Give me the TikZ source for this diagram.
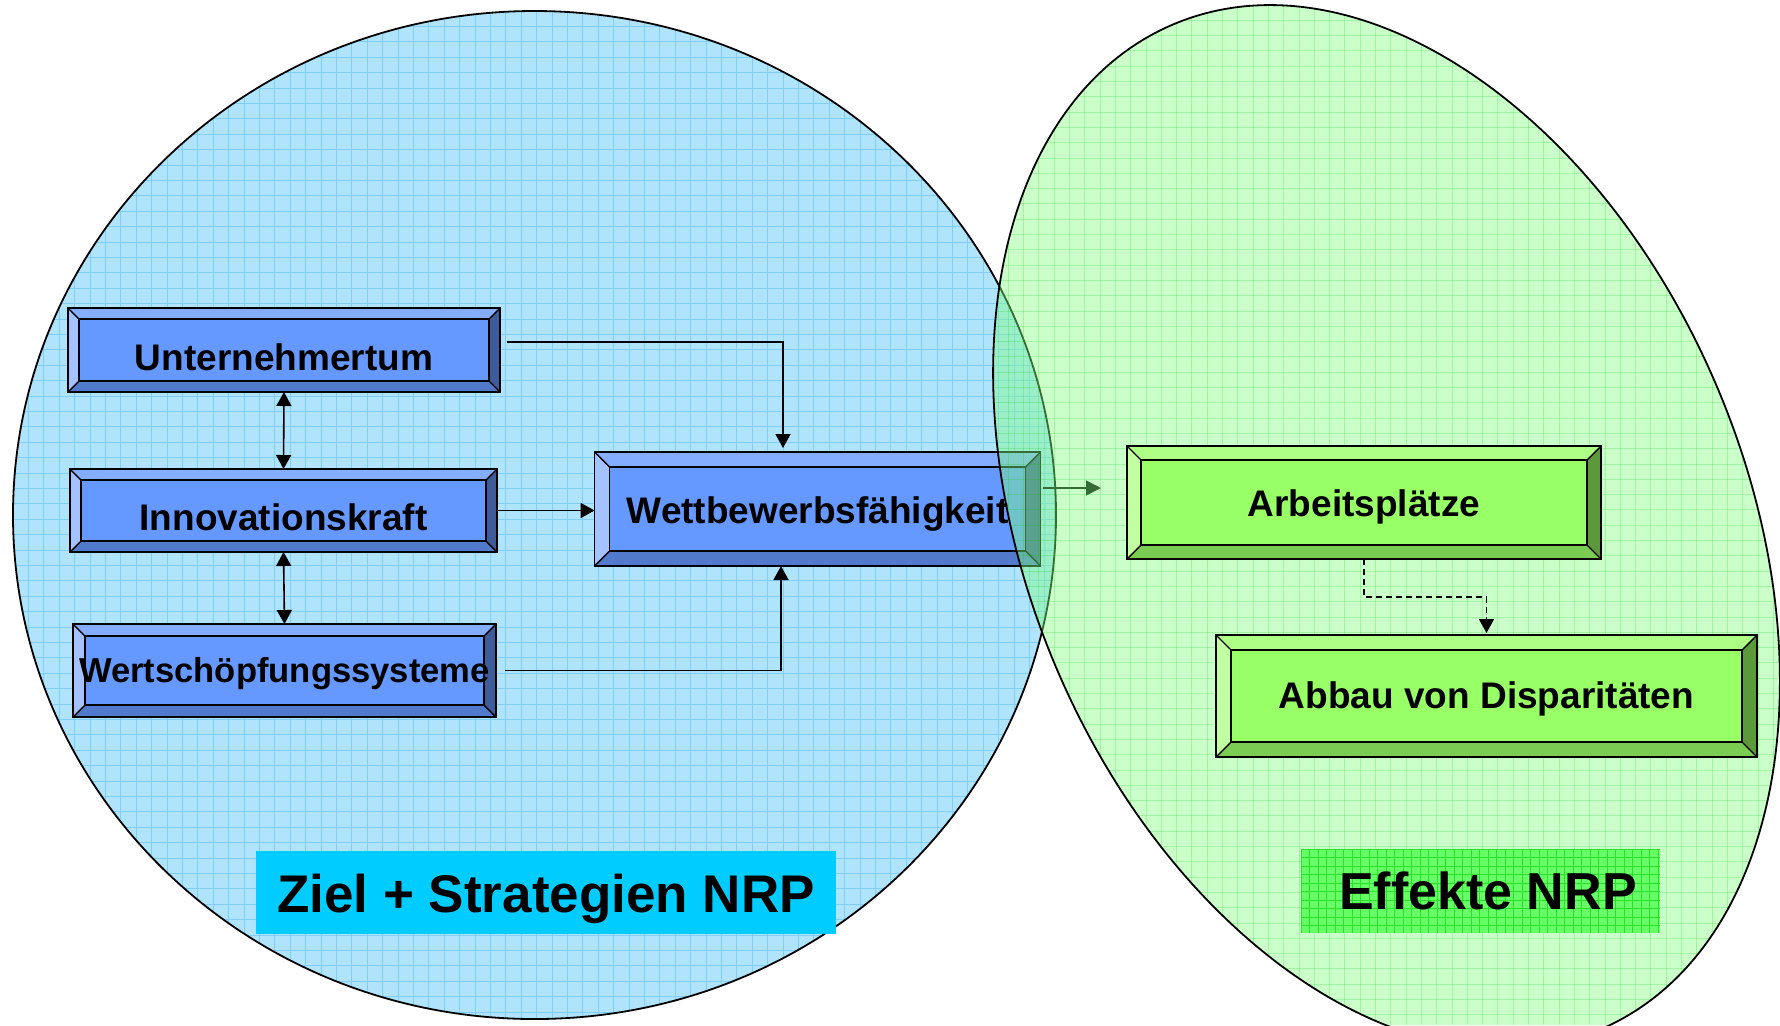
\documentclass[tikz,border=0pt]{standalone}
\usepackage{fontspec}
\setmainfont{Liberation Sans}
\usetikzlibrary{calc,arrows.meta}

\definecolor{Bface}{RGB}{102,153,255}
\definecolor{Btop}{RGB}{133,173,255}
\definecolor{Bleft}{RGB}{163,194,255}
\definecolor{Bbot}{RGB}{82,122,204}
\definecolor{Bright}{RGB}{61,92,153}
\definecolor{Gface}{RGB}{153,255,102}
\definecolor{Gtop}{RGB}{173,255,133}
\definecolor{Gleft}{RGB}{194,255,163}
\definecolor{Gbot}{RGB}{122,204,82}
\definecolor{Gright}{RGB}{92,153,61}
\definecolor{blueBg}{RGB}{176,228,252}
\definecolor{blueGrid}{RGB}{128,206,245}
\definecolor{zielC}{RGB}{0,204,255}
\definecolor{effC}{RGB}{102,255,102}
\definecolor{effGrid}{RGB}{40,225,40}
\definecolor{greenFill}{RGB}{128,255,128}
\definecolor{greenGrid}{RGB}{0,200,0}

\tikzset{
  boxline/.style={draw=black, line width=0.7pt, line join=miter},
  conn/.style={draw=black, line width=0.8pt, -{Triangle[length=7pt,width=7.5pt]}},
  dconn/.style={draw=black, line width=0.8pt, {Triangle[length=7pt,width=7.5pt]}-{Triangle[length=7pt,width=7.5pt]}},
  gconn/.style={draw=black, line width=0.7pt, -{Triangle[length=7.5pt,width=7.5pt]}},
  dashconn/.style={draw=black, line width=0.8pt, dash pattern=on 3pt off 2pt, -{Triangle[length=7pt,width=7.5pt]}},
  boxtext/.style={font=\bfseries\fontsize{#1}{#1}\selectfont, inner sep=0pt},
}

% #1 name, #2 centre, #3 width px, #4 height px, #5 bevel px, #6 palette, #7 font size, #8 text yshift pt, #9 text
\newcommand{\mybevel}[9]{%
  \node[minimum width=#3*0.5pt, minimum height=#4*0.5pt, inner sep=0pt, outer sep=0pt] (#1) at #2 {};
  \coordinate (#1-inw) at ($(#1.north west)+(#5,#5)$);
  \coordinate (#1-ine) at ($(#1.north east)+(-#5,#5)$);
  \coordinate (#1-ise) at ($(#1.south east)+(-#5,-#5)$);
  \coordinate (#1-isw) at ($(#1.south west)+(#5,-#5)$);
  \fill[#6face] (#1-inw) rectangle (#1-ise);
  \fill[#6top] (#1.north west) -- (#1.north east) -- (#1-ine) -- (#1-inw) -- cycle;
  \fill[#6bot] (#1.south west) -- (#1.south east) -- (#1-ise) -- (#1-isw) -- cycle;
  \fill[#6left] (#1.north west) -- (#1-inw) -- (#1-isw) -- (#1.south west) -- cycle;
  \fill[#6right] (#1.north east) -- (#1.south east) -- (#1-ise) -- (#1-ine) -- cycle;
  \draw[boxline] (#1.north west) rectangle (#1.south east);
  \draw[boxline] (#1-inw) rectangle (#1-ise);
  \draw[boxline] (#1.north west) -- (#1-inw) (#1.north east) -- (#1-ine)
                 (#1.south east) -- (#1-ise) (#1.south west) -- (#1-isw);
  \node[boxtext=#7, yshift=#8pt] (#1t) at (#1.center) {#9};
}

\begin{document}
\begin{tikzpicture}[x=0.5pt,y=-0.5pt]
\useasboundingbox (0,0) rectangle (1780,1025);
\clip (0,0) rectangle (1780,1025);

% ---------- blue circle ----------
\coordinate (bc) at (534.5,515);
\begin{scope}
  \clip (bc) ellipse [x radius=521.5, y radius=504];
  \fill[blueBg] (0,0) rectangle (1100,1025);
  \foreach \x in {13,28.4,...,1060} \draw[blueGrid, line width=0.5pt] (\x,0) -- (\x,1025);
  \foreach \y in {11,26.4,...,1025} \draw[blueGrid, line width=0.5pt] (0,\y) -- (1100,\y);
\end{scope}
\draw[line width=0.9pt] (bc) ellipse [x radius=521.5, y radius=504];

% ---------- blue label ----------
\node[fill=zielC, minimum width=580*0.5pt, minimum height=83*0.5pt, inner sep=0pt] (ziel) at (546,892.5) {};
\node[boxtext=26.5, yshift=-3.4pt] (zielt) at (ziel.center) {Ziel + Strategien NRP};

% ---------- blue boxes ----------
\mybevel{u}{(284,350)}{432}{84}{11}{B}{18.5}{-3.5}{Unternehmertum}
\mybevel{ik}{(283.5,510.5)}{427}{83}{11}{B}{18.5}{-3.5}{Innovationskraft}
\mybevel{ws}{(284.5,670.5)}{423}{93}{12}{B}{17.3}{-1.5}{Wertschöpfungssysteme}
\mybevel{wb}{(817.6,509)}{446}{114}{15}{B}{18.5}{-2.25}{Wettbewerbsfähigkeit}

% ---------- blue connectors ----------
\coordinate (uc) at (783,342);
\draw[conn, shorten <=3.5pt, shorten >=2pt] (u.east |- uc) -- (uc) -- (uc |- wb.north);
\coordinate (wc) at (781,670.5);
\draw[conn, shorten <=4.5pt] (ws.east |- wc) -- (wc) -- (wc |- wb.south);
\draw[conn] (ik.east) -- (ik.east -| wb.west);
\draw[dconn] (u.south) -- (ik.north);
\draw[dconn] (ik.south) -- (ws.north);
\coordinate (ga) at (1101,488);
\draw[gconn, shorten <=1pt] (wb.east |- ga) -- (ga);

% ---------- green ellipse ----------
\coordinate (gc) at (1386.5,527);
\begin{scope}
  \clip[rotate around={23:(gc)}] (gc) ellipse [x radius=359, y radius=546];
  \fill[greenFill, opacity=0.42] (900,0) rectangle (1780,1025);
  \foreach \x in {993,1008.3,...,1780} \draw[greenGrid, opacity=0.2, line width=0.5pt] (\x,0) -- (\x,1025);
  \foreach \y in {5,20.3,...,1025} \draw[greenGrid, opacity=0.2, line width=0.5pt] (900,\y) -- (1780,\y);
\end{scope}
\draw[line width=0.9pt, rotate around={23:(gc)}] (gc) ellipse [x radius=359, y radius=546];

% ---------- green label ----------
\node[fill=effC, minimum width=359*0.5pt, minimum height=84*0.5pt, inner sep=0pt] (eff) at (1480.5,891) {};
\begin{scope}
  \clip (eff.north west) rectangle (eff.south east);
  \foreach \x in {1301,1309.5,...,1662} \draw[effGrid, line width=0.5pt] (\x,849) -- (\x,933);
  \foreach \y in {849,857.5,...,934} \draw[effGrid, line width=0.5pt] (1301,\y) -- (1660,\y);
\end{scope}
\node[boxtext=26, xshift=3.75pt] (efft) at (eff.center) {Effekte NRP};

% ---------- green boxes ----------
\mybevel{ap}{(1364,502.5)}{474}{113}{14}{G}{18.5}{-2.25}{Arbeitsplätze}
\mybevel{ab}{(1486.5,696)}{541}{122}{15}{G}{18.5}{-1.7}{Abbau von Disparitäten}

\draw[dashconn, shorten >=1pt] (ap.south) |- ($(ap.south)!0.5!(ab.north)$) -| (ab.north);

\end{tikzpicture}
\end{document}
